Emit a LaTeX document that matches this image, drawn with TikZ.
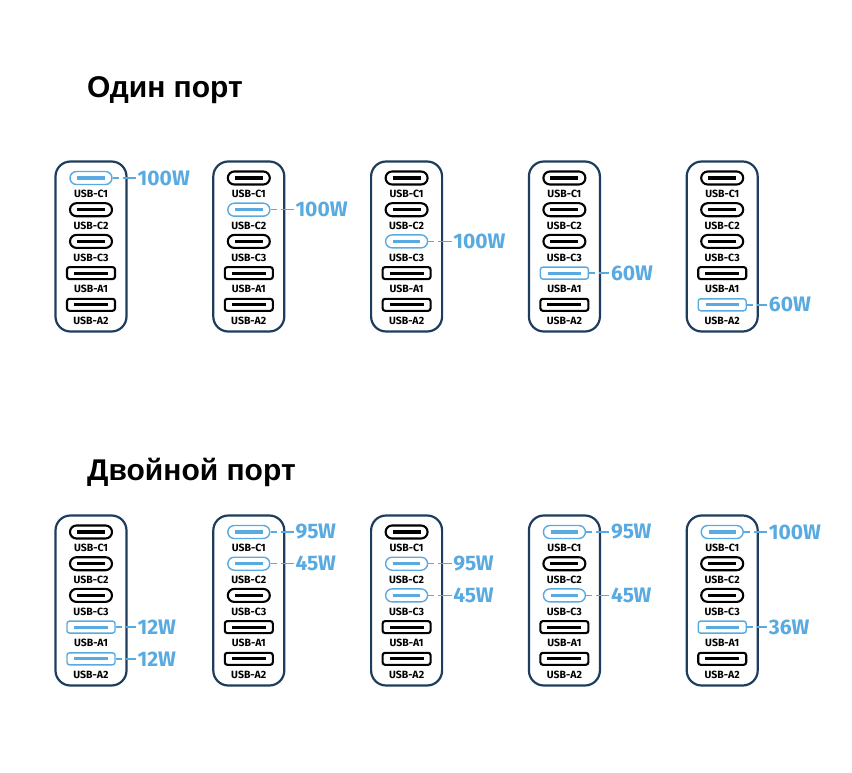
\documentclass[tikz,border=0pt]{standalone}
\usepackage{fontspec}
\setmainfont{Liberation Sans}
\newfontfamily\portfont{Fira Sans}
\usetikzlibrary{calc}

\definecolor{navy}{HTML}{1E3D5C}
\definecolor{hotblue}{HTML}{58AAE0}

\tikzset{
  chgbox/.style={draw=navy, line width=2.2pt, rounded corners=15pt, minimum width=71pt, minimum height=170pt, inner sep=0pt},
  cport/.style={rounded corners=6.5pt, minimum width=42pt, minimum height=13pt, inner sep=0pt},
  aport/.style={rounded corners=2.5pt, minimum width=48pt, minimum height=12pt, inner sep=0pt},
  cold/.style={draw=black, line width=2.1pt},
  hot/.style={draw=hotblue, line width=1.4pt},
  portbar/.style={line width=3.2pt},
  portname/.style={font=\portfont\bfseries\fontsize{10.5}{12}\selectfont, inner sep=0pt},
  watt/.style={font=\portfont\bfseries\fontsize{21}{24}\selectfont, text=hotblue, anchor=west, inner sep=1.5pt},
  lead/.style={draw=hotblue, line width=1.5pt, dash pattern=on 6pt off 4pt on 20pt},
  heading/.style={font=\bfseries\fontsize{30}{36}\selectfont, anchor=base west, inner sep=0pt}
}

\begin{document}
\begin{tikzpicture}[x=1pt, y=-1pt]
\useasboundingbox (0,0) rectangle (852,773);
\node[heading] (one) at (87,98) {Один порт};
\node[heading] (two) at (87,480) {Двойной порт};
% row / top / charger / first hot port / watts / second hot port / watts
\foreach \rw/\top/\i/\hp/\wp/\hq/\wq in {a/161/1/1/100W/0/-, a/161/2/2/100W/0/-, a/161/3/3/100W/0/-,
    a/161/4/4/60W/0/-, a/161/5/5/60W/0/-, b/515/1/4/12W/5/12W, b/515/2/1/95W/2/45W,
    b/515/3/2/95W/3/45W, b/515/4/1/95W/3/45W, b/515/5/1/100W/4/36W}{
  \pgfmathsetmacro{\xl}{55+157.8*(\i-1)}
  \node[chgbox] (\rw\i) at (\xl+36,\top+85.5) {};
  \foreach \k/\nm in {1/C1,2/C2,3/C3,4/A1,5/A2}{
    \pgfmathsetmacro{\yp}{\top+17+31.7*(\k-1)}
    \ifnum\k<4 \def\shp{cport}\else\def\shp{aport}\fi
    \ifnum\k=\hp \def\st{hot}\else\ifnum\k=\hq \def\st{hot}\else\def\st{cold}\fi\fi
    \node[\shp, \st] (\rw\i-\k) at (\xl+36,\yp) {};
    \draw[\st, portbar] ([xshift=8pt]\rw\i-\k.west) -- ([xshift=-8pt]\rw\i-\k.east);
    \node[portname] (\rw\i-\k-n) at ($(\rw\i-\k)+(0,16)$) {USB-\nm};
  }
  \pgfmathsetmacro{\yw}{\top+17+31.7*(\hp-1)}
  \node[watt] (\rw\i-w) at (\xl+81,\yw) {\wp};
  \draw[lead] (\rw\i-\hp) -- (\rw\i-w);
  \ifnum\hq>0
    \pgfmathsetmacro{\yv}{\top+17+31.7*(\hq-1)}
    \node[watt] (\rw\i-v) at (\xl+81,\yv) {\wq};
    \draw[lead] (\rw\i-\hq) -- (\rw\i-v);
  \fi
}
\end{tikzpicture}
\end{document}
